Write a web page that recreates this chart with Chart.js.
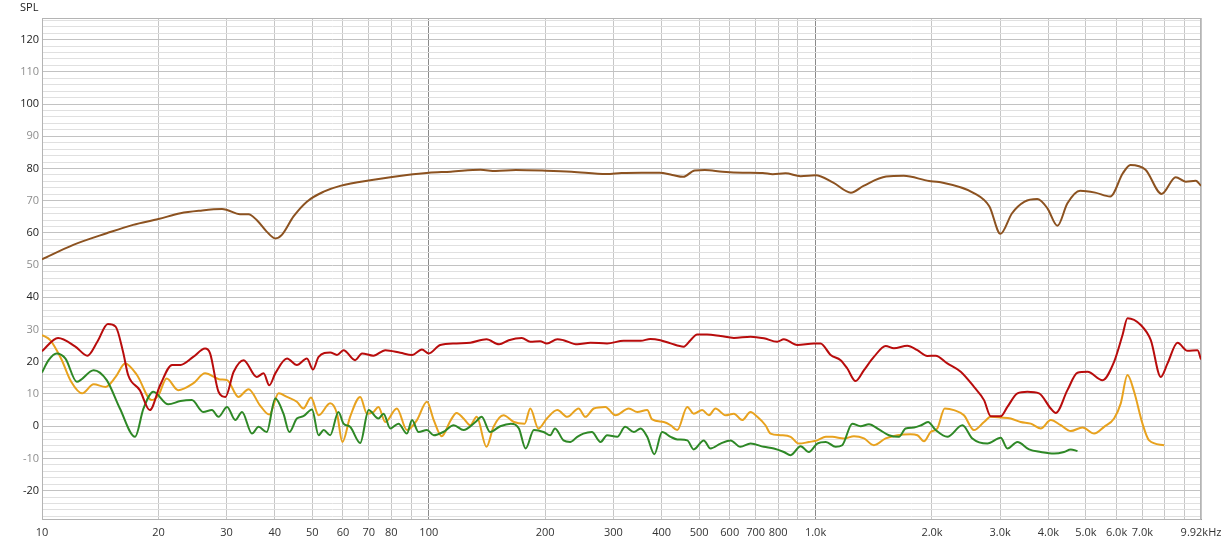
<!DOCTYPE html>
<html>
<head>
<meta charset="utf-8">
<script src="https://cdn.jsdelivr.net/npm/chart.js@4.4.1/dist/chart.umd.min.js"></script>
<style>
  html, body { margin: 0; padding: 0; background: #fff; }
  #wrap { width: 1221px; height: 545px; }
</style>
</head>
<body>
<div id="wrap"><canvas id="myChart"></canvas></div>
<script>
// frequency (Hz) / level (dB SPL) pairs
const brownHz = [10, 12.05, 14.7, 17.2, 20, 22.8, 25.6, 29.2, 30.1, 32.5, 34.2, 35.9, 38.1, 40.1, 41.7, 44.7, 48.4, 53.5, 59, 72, 87.8, 100, 114, 136, 149, 168, 201, 234, 288, 315, 355, 395, 426, 455, 487, 517, 575, 648, 730, 775, 836, 915, 1000, 1111, 1234, 1330, 1522, 1690, 1965, 2086, 2573, 2815, 3006, 3221, 3471, 3742, 3973, 4219, 4479, 4829, 5283, 5779, 6229, 6516, 7130, 7848, 8533, 9058, 9616, 9920];
const brownDb = [51.8, 56.3, 59.9, 62.5, 64.3, 66.1, 66.9, 67.4, 67.1, 65.8, 65.8, 64.0, 60.4, 58.3, 59.4, 65.1, 69.7, 72.8, 74.6, 76.5, 78.0, 78.7, 79.0, 79.6, 79.2, 79.5, 79.3, 79.0, 78.3, 78.6, 78.7, 78.7, 78.0, 77.4, 79.4, 79.5, 79.0, 78.7, 78.6, 78.2, 78.5, 77.6, 77.9, 75.6, 72.5, 74.6, 77.5, 77.7, 76.1, 75.8, 72.3, 68.2, 59.7, 66.1, 69.7, 70.5, 67.7, 62.2, 69.2, 73.1, 72.5, 71.3, 78.5, 81.1, 79.6, 72.1, 77.3, 75.9, 76.2, 74.6];

const redHz = [10, 11.0, 12.2, 13.1, 13.9, 14.8, 15.5, 16.2, 16.7, 17.9, 19.0, 20.2, 21.7, 22.8, 24.6, 26.4, 27.2, 28.6, 29.8, 31.3, 33.2, 35.9, 37.4, 38.7, 40.1, 43.0, 45.6, 48.4, 50.2, 51.9, 55.6, 57.9, 60.2, 64.5, 67.2, 71.9, 77.2, 84.4, 90.5, 96.0, 100, 107, 118, 128, 141, 152, 161, 174, 183, 194, 202, 215, 223, 242, 262, 289, 319, 353, 374, 397, 422, 456, 475, 494, 524, 568, 615, 679, 735, 796, 828, 897, 990, 1030, 1094, 1161, 1208, 1269, 1334, 1415, 1518, 1594, 1727, 1833, 1945, 2044, 2191, 2373, 2568, 2726, 2837, 3011, 3133, 3326, 3529, 3783, 4055, 4178, 4479, 4755, 5047, 5519, 5913, 6218, 6404, 6932, 7357, 7807, 8128, 8626, 9156, 9718, 9920];
const redDb = [23.3, 27.4, 24.7, 21.9, 26.2, 31.7, 30.9, 23.1, 15.9, 11.2, 5.0, 12.7, 19.0, 19.0, 21.5, 24.1, 22.6, 10.7, 9.1, 16.9, 20.5, 15.3, 16.4, 12.7, 16.4, 21.0, 19.0, 21.0, 17.6, 21.5, 22.9, 22.1, 23.6, 20.5, 22.6, 21.9, 23.6, 22.8, 22.1, 23.8, 22.6, 25.2, 25.7, 25.9, 27.0, 25.4, 26.7, 27.4, 26.2, 26.4, 25.7, 27.0, 26.7, 25.4, 25.9, 25.7, 26.5, 26.5, 27.1, 26.7, 25.7, 24.7, 26.7, 28.5, 28.5, 28.0, 27.4, 27.8, 27.3, 26.2, 27.0, 25.2, 25.7, 25.7, 22.1, 20.5, 17.9, 14.0, 17.4, 21.5, 24.9, 24.2, 25.0, 23.6, 21.8, 21.9, 19.5, 16.9, 12.2, 8.1, 3.1, 3.1, 6.0, 10.2, 10.7, 10.2, 5.5, 4.1, 11.2, 16.6, 16.9, 14.3, 20.0, 28.3, 33.5, 31.4, 26.7, 15.3, 19.5, 25.9, 23.4, 23.6, 20.7];

const orangeHz = [10, 10.5, 11.2, 11.9, 12.7, 13.6, 14.6, 15.5, 16.4, 17.6, 19.2, 20.0, 21.0, 22.5, 24.6, 26.4, 28.9, 30.1, 32.2, 34.2, 36.6, 38.7, 40.9, 43.0, 45.6, 47.4, 49.6, 51.9, 55.6, 57.9, 59.8, 62.6, 66.5, 69.2, 71.9, 74.1, 77.2, 82.7, 87.8, 93.2, 98.9, 103, 108, 114, 118, 123, 128, 133, 141, 147, 156, 166, 177, 183, 192, 202, 215, 228, 244, 254, 267, 286, 304, 329, 346, 367, 378, 405, 422, 439, 466, 484, 509, 530, 551, 585, 615, 646, 679, 707, 742, 765, 812, 862, 906, 961, 1010, 1063, 1105, 1184, 1257, 1334, 1415, 1518, 1627, 1761, 1833, 1907, 1984, 2064, 2157, 2280, 2419, 2568, 2726, 2837, 3011, 3196, 3391, 3600, 3821, 4055, 4305, 4568, 4898, 5251, 5572, 5913, 6153, 6404, 6662, 7002, 7284, 7965];
const orangeDb = [28.3, 26.7, 21.0, 13.8, 10.2, 13.0, 12.2, 15.3, 19.5, 15.9, 8.1, 9.6, 14.8, 11.2, 13.3, 16.4, 14.5, 14.3, 9.1, 11.5, 6.5, 3.6, 10.2, 9.1, 7.6, 5.5, 8.9, 3.4, 7.1, 3.9, -4.9, 2.9, 9.1, 3.9, 4.4, 6.0, 1.3, 5.5, -1.2, 1.9, 7.6, 1.9, -3.1, 1.9, 4.1, 2.4, 0.3, 2.9, -6.4, -0.2, 3.4, 1.3, 0.8, 5.5, -0.7, 2.4, 5.0, 2.9, 5.5, 2.9, 5.5, 6.0, 3.4, 5.5, 4.4, 5.0, 2.1, 1.3, 0.3, -1.2, 6.0, 3.9, 5.0, 3.4, 5.5, 3.4, 3.9, 1.9, 4.4, 2.9, 0.3, -2.3, -2.8, -3.3, -5.4, -4.9, -4.4, -3.3, -3.3, -3.8, -3.1, -3.8, -5.9, -3.8, -2.8, -2.5, -2.8, -4.7, -1.8, -0.7, 5.5, 5.0, 3.4, -1.2, 1.3, 2.9, 2.7, 2.4, 1.3, 0.8, -0.7, 1.9, 0.3, -1.5, -0.4, -2.3, -0.2, 2.4, 7.1, 15.9, 10.7, 0.8, -4.4, -5.9];

const greenHz = [10, 10.4, 10.9, 11.5, 12.3, 13.6, 14.7, 15.9, 17.4, 18.3, 19.4, 21.2, 22.8, 24.4, 26.1, 27.5, 28.6, 30.1, 31.6, 32.9, 34.9, 36.3, 38.1, 40.1, 42.1, 43.6, 45.6, 47.4, 49.9, 51.9, 53.5, 55.6, 58.4, 60.2, 62.6, 66.5, 69.9, 74.1, 76.4, 79.5, 83.5, 87.8, 90.5, 94.1, 98.9, 103, 109, 116, 123, 132, 137, 144, 153, 163, 171, 178, 187, 198, 206, 212, 223, 232, 242, 251, 264, 278, 289, 307, 322, 339, 353, 367, 383, 401, 422, 439, 466, 484, 514, 535, 568, 603, 639, 679, 735, 780, 828, 862, 915, 961, 1010, 1063, 1127, 1172, 1244, 1307, 1374, 1458, 1547, 1643, 1709, 1797, 1875, 1953, 2044, 2191, 2397, 2543, 2781, 3011, 3133, 3326, 3564, 3821, 4136, 4390, 4568, 4755];
const greenDb = [16.7, 20.5, 22.6, 21.0, 13.8, 17.4, 14.3, 5.5, -3.3, 5.5, 10.7, 6.8, 7.8, 8.1, 4.4, 5.0, 2.9, 6.0, 1.9, 4.4, -2.3, -0.2, -1.8, 8.6, 3.9, -1.8, 2.4, 3.1, 5.2, -2.8, -1.2, -2.8, 4.4, 0.8, -0.2, -5.2, 5.0, 2.4, 3.9, -0.7, 0.8, -2.3, 1.9, -1.8, -1.2, -2.8, -1.8, 0.3, -1.2, 1.3, 2.9, -1.8, 0.0, 0.8, -0.7, -6.9, -1.2, -1.8, -2.8, -0.7, -4.4, -4.9, -3.3, -2.3, -1.8, -4.9, -2.8, -3.3, -0.2, -1.8, -0.7, -3.3, -8.7, -1.8, -3.3, -4.1, -4.4, -7.2, -4.4, -6.9, -5.4, -4.4, -6.4, -5.4, -6.4, -6.9, -8.0, -9.0, -6.2, -8.0, -5.4, -4.9, -6.4, -5.9, 0.8, 0.0, 0.6, -1.0, -2.8, -3.3, -0.7, -0.4, 0.3, 1.3, -1.2, -3.3, 0.3, -3.8, -5.4, -3.6, -6.9, -4.9, -7.2, -8.0, -8.5, -8.0, -7.2, -7.7];

// x gridlines and their labels ('' = line without label)
const xTicks = [10, 20, 30, 40, 50, 60, 70, 80, 90, 100, 200, 300, 400, 500, 600, 700, 800, 900, 1000, 2000, 3000, 4000, 5000, 6000, 7000, 8000, 9000, 9920];
const xTickLabels = ['10', '20', '30', '40', '50', '60', '70', '80', '', '100', '200', '300', '400', '500', '600', '700', '800', '', '1.0k', '2.0k', '3.0k', '4.0k', '5.0k', '6.0k', '7.0k', '', '', '9.92kHz'];

const FONT = { family: 'Open Sans', size: 11 };

function pairs(hz, db) {
    return hz.map((f, i) => ({ x: f, y: db[i] }));
}

function line(data, color) {
    return {
        data: data,
        borderColor: color,
        borderWidth: 2,
        pointRadius: 0,
        fill: false,
        cubicInterpolationMode: 'monotone'
    };
}

// plot frame and the "SPL" caption
const framePlugin = {
    id: 'frame',
    beforeDatasetsDraw(chart) {
        const { ctx, chartArea: a } = chart;
        ctx.save();
        ctx.strokeStyle = '#b4b4b4';
        ctx.lineWidth = 1;
        ctx.strokeRect(a.left + 0.5, a.top + 0.5, a.right - a.left - 1, a.bottom - a.top);
        ctx.restore();
    },
    afterDraw(chart) {
        const ctx = chart.ctx;
        ctx.save();
        ctx.font = '11px "Open Sans"';
        ctx.fillStyle = '#222';
        ctx.textBaseline = 'middle';
        ctx.fillText('SPL', 20, 8);
        ctx.restore();
    }
};

const ctx = document.getElementById('myChart').getContext('2d');
const myChart = new Chart(ctx, {
    type: 'line',
    data: {
        datasets: [
            line(pairs(brownHz, brownDb), 'rgb(140, 82, 32)'),
            line(pairs(redHz, redDb), 'rgb(184, 12, 12)'),
            line(pairs(greenHz, greenDb), 'rgb(46, 136, 38)'),
            line(pairs(orangeHz, orangeDb), 'rgb(232, 162, 30)')
        ]
    },
    options: {
        responsive: true,
        maintainAspectRatio: false,
        animation: false,
        devicePixelRatio: 1,
        layout: { padding: { top: 18, right: 0, left: 0, bottom: 0 } },
        plugins: { legend: { display: false }, tooltip: { enabled: false } },
        scales: {
            x: {
                type: 'logarithmic',
                min: 10,
                max: 9920,
                afterBuildTicks: s => { s.ticks = xTicks.map(v => ({ value: v })); },
                afterFit: s => {
                    s.height = 26;
                    s.paddingLeft = 0;
                    s.paddingRight = 20;
                },
                ticks: {
                    autoSkip: false,
                    maxRotation: 0,
                    minRotation: 0,
                    padding: 7,
                    color: '#333',
                    font: FONT,
                    callback: (v, i) => xTickLabels[i]
                },
                grid: {
                    drawTicks: false,
                    color: c => {
                        const v = c.tick && c.tick.value;
                        return (v === 10 || v === 100 || v === 1000) ? '#8a8a8a' : '#c6c6c6';
                    }
                },
                border: { color: '#a0a0a0' }
            },
            y: {
                min: -28.8,
                max: 126.7,
                afterBuildTicks: s => {
                    const t = [];
                    for (let v = -28; v <= 126; v += 2) t.push({ value: v });
                    s.ticks = t;
                },
                afterFit: s => { s.width = 42; },
                ticks: {
                    autoSkip: false,
                    padding: 3,
                    font: FONT,
                    color: c => (c.tick.value % 20 === 0 ? '#222' : '#8e8e8e'),
                    callback: v => (v % 10 === 0 ? String(v) : '')
                },
                grid: {
                    drawTicks: false,
                    color: c => (c.tick && c.tick.value % 10 === 0 ? '#c2c2c2' : '#e0e0e0')
                },
                border: { color: '#8a8a8a' }
            }
        }
    },
    plugins: [framePlugin]
});
</script>
</body>
</html>
